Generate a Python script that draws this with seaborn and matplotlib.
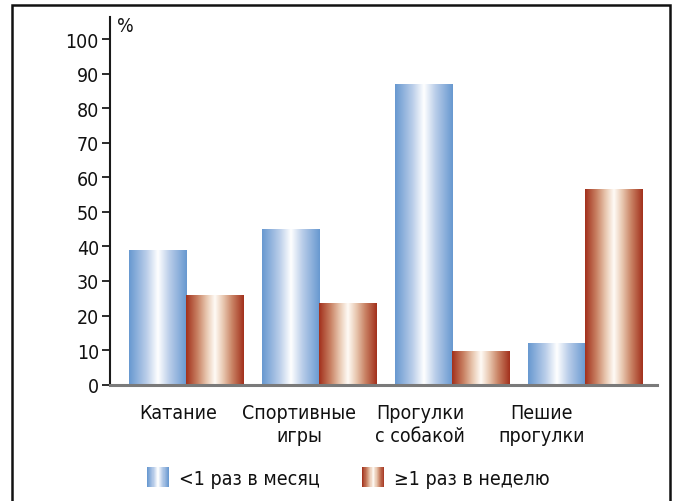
import numpy as np
import pandas as pd
import matplotlib
matplotlib.use("Agg")
import matplotlib.pyplot as plt
from matplotlib import font_manager
from matplotlib.colors import LinearSegmentedColormap
from matplotlib.patches import Rectangle
from matplotlib.legend_handler import HandlerBase
import seaborn as sns

# --- data -------------------------------------------------------------
categories = ["Катание", "Спортивные\nигры", "Прогулки\nс собакой", "Пешие\nпрогулки"]
series_names = ["<1 раз в месяц", "≥1 раз в неделю"]
rare_values = [39, 45, 87, 12]        # <1 раз в месяц
weekly_values = [26, 23.5, 9.7, 56.6]  # ≥1 раз в неделю
y_ticks = list(range(0, 101, 10))

df = pd.DataFrame({
    "cat": categories * 2,
    "series": [series_names[0]] * 4 + [series_names[1]] * 4,
    "value": rare_values + weekly_values,
})

# --- style ------------------------------------------------------------
sns.set_theme(style="white")
condensed = [f for f in font_manager.fontManager.ttflist
             if ("condensed" in f.fname.lower() or "narrow" in f.fname.lower())
             and f.weight in (400, "normal", "regular") and f.style == "normal"]
if condensed:
    plt.rcParams["font.family"] = [condensed[0].name, "DejaVu Sans"]
    plt.rcParams["font.stretch"] = condensed[0].stretch
else:
    plt.rcParams["font.family"] = ["DejaVu Sans"]
FS = 14
TXT = "#111111"

blue_cmap = LinearSegmentedColormap.from_list(
    "bluebar", [(0, "#6798d0"), (0.3, "#b9cde9"), (0.5, "#ffffff"),
                (0.7, "#b9cde9"), (1, "#6798d0")])
red_cmap = LinearSegmentedColormap.from_list(
    "redbar", [(0, "#a2301c"), (0.2, "#c98264"), (0.36, "#e9c9b2"), (0.5, "#fffbf6"),
               (0.64, "#e9c9b2"), (0.8, "#c98264"), (1, "#a2301c")])
cmaps = [blue_cmap, red_cmap]

fig = plt.figure(figsize=(6.73, 5.02), dpi=100)
ax = fig.add_axes([110 / 673, (502 - 385.6) / 502, (657 - 110) / 673, 367.6 / 502])

sns.barplot(data=df, x="cat", y="value", hue="series", hue_order=series_names,
            order=categories, width=0.857, ax=ax, legend=False,
            palette=["#6798d0", "#a2301c"], saturation=1)

# paint each bar with a horizontal gradient
grad = np.linspace(0, 1, 256).reshape(1, -1)
bars = list(ax.patches)
for i, bar in enumerate(bars):
    cmap = cmaps[i // len(categories)]
    x0, w, h = bar.get_x(), bar.get_width(), bar.get_height()
    ax.imshow(grad, extent=[x0, x0 + w, 0, h], aspect="auto", cmap=cmap,
              interpolation="bilinear", zorder=2)
    bar.set_visible(False)

ax.set_xlim(-0.571, 3.54)
ax.set_ylim(0, 106.4)

# axes styling
for side in ["top", "right"]:
    ax.spines[side].set_visible(False)
ax.spines["left"].set_color("#1a1a1a")
ax.spines["left"].set_linewidth(1.5)
ax.spines["bottom"].set_color("#7a7a7a")
ax.spines["bottom"].set_linewidth(2.2)
ax.spines["bottom"].set_zorder(3)

ax.set_yticks(y_ticks)
ax.set_yticklabels([str(t) for t in y_ticks], fontsize=FS)
ax.tick_params(axis="y", direction="out", length=6, width=1.3, color="#1a1a1a",
               pad=2, left=True, labelcolor=TXT)

label_pos = [-0.06, 0.85, 1.76, 2.67]
ax.set_xticks(label_pos)
ax.set_xticklabels(categories, fontsize=FS, color=TXT)
for t in ax.get_xticklabels():
    t.set_linespacing(1.3)
ax.tick_params(axis="x", length=0, pad=13)
ax.set_xlabel("")
ax.set_ylabel("")
ax.grid(False)

ax.text(0.012, 103.8, "%", transform=ax.get_yaxis_transform(), fontsize=FS,
        va="center", ha="left", color=TXT)


# legend with gradient swatches
class GradientHandler(HandlerBase):
    def __init__(self, cmap, n=40):
        super().__init__()
        self.cmap = cmap
        self.n = n

    def create_artists(self, legend, orig_handle, xdescent, ydescent, width,
                       height, fontsize, trans):
        arts = []
        sw = width / self.n
        for k in range(self.n):
            c = self.cmap((k + 0.5) / self.n)
            r = Rectangle((-xdescent + k * sw, -ydescent), sw * 1.05, height,
                          facecolor=c, edgecolor="none", transform=trans)
            arts.append(r)
        return arts


h_blue = Rectangle((0, 0), 1, 1)
h_red = Rectangle((0, 0), 1, 1)
leg = fig.legend([h_blue, h_red], series_names,
                 handler_map={h_blue: GradientHandler(blue_cmap), h_red: GradientHandler(red_cmap)},
                 loc="center left", bbox_to_anchor=(147 / 673, 1 - 478.5 / 502), ncol=2,
                 frameon=False, fontsize=FS, handlelength=1.13, handleheight=1.18,
                 handletextpad=0.5, columnspacing=2.2, borderaxespad=0, borderpad=0,
                 labelcolor=TXT)

# outer frame around the figure
frame = Rectangle((12 / 673, -0.1), (670 - 12) / 673, 0.1 + (502 - 5.5) / 502,
                  transform=fig.transFigure, fill=False, edgecolor="#111111",
                  linewidth=1.8, clip_on=False)
fig.patches.append(frame)

fig.savefig("out.png", dpi=100)
